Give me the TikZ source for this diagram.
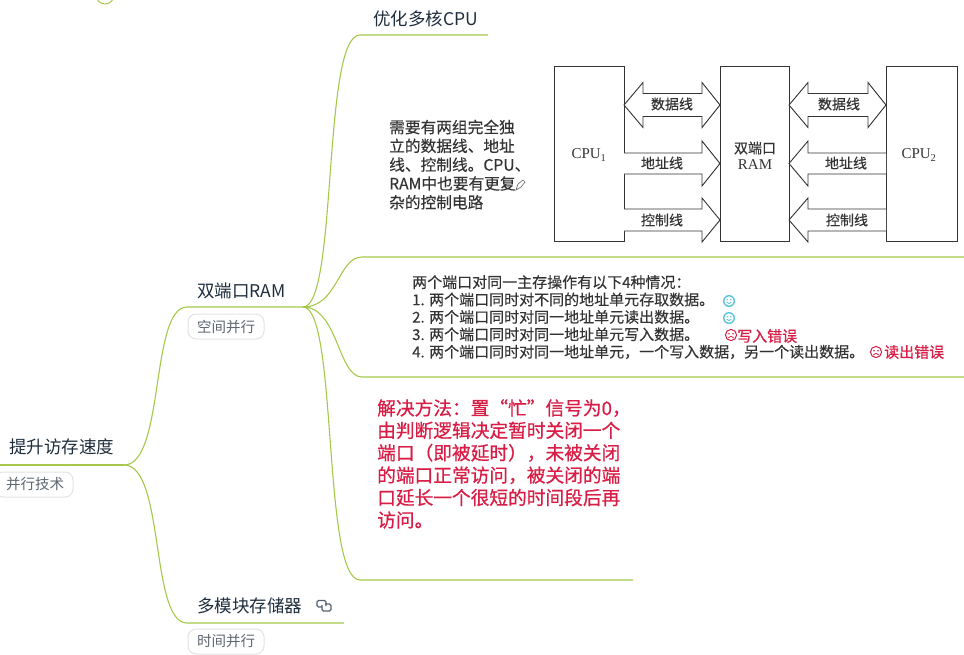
\documentclass[tikz,border=0pt]{standalone}
\usepackage{fontspec}
\setmainfont{Noto Sans CJK SC}
\newfontfamily\latinserif{Liberation Serif}
\newfontfamily\photofont[FakeBold=0.25]{Noto Sans CJK SC}
\newfontfamily\alertfont[FakeBold=0.7]{Noto Sans CJK SC}
\definecolor{branch}{HTML}{A5C84B}
\definecolor{inktext}{HTML}{1F2D3D}
\definecolor{tagline}{HTML}{E2E2E2}
\definecolor{tagtext}{HTML}{5E6670}
\definecolor{photoink}{HTML}{333333}
\definecolor{alertred}{HTML}{D81E46}
\definecolor{smile}{HTML}{5CC4E0}
\tikzset{
  limb/.style={draw=branch,line width=1.1pt},
  rootlimb/.style={draw=branch,line width=2.2pt},
  topic/.style={inner sep=0pt,anchor=west,text=inktext,font=\fontsize{17.5}{20}\selectfont},
  tagbox/.style={draw=tagline,line width=1pt,rounded corners=8pt,minimum height=25pt,text=tagtext,inner sep=0pt,font=\fontsize{14.5}{16}\selectfont},
  hwbox/.style={draw=photoink,line width=.9pt,inner sep=0pt},
  blockarrow/.style={draw=photoink,line width=.9pt,fill=white,line join=miter},
  wirelabel/.style={inner sep=0pt,text=photoink,font=\photofont\fontsize{14}{16}\selectfont},
  serifname/.style={inner sep=0pt,text=photoink,font=\latinserif\fontsize{15}{17}\selectfont},
  photonote/.style={inner sep=0pt,anchor=north west,align=left,text=photoink},
  alerttext/.style={inner sep=0pt,text=alertred,font=\alertfont\fontsize{15}{17}\selectfont},
  smileface/.pic={
    \fill[smile] (0,0) circle (6);
    \fill[white] (0,0) circle (4.6);
    \fill[smile] (-1.7,-1.3) circle (.8) (1.7,-1.3) circle (.8);
    \draw[smile,line width=.8pt] (-2.4,1) .. controls (-1,3) and (1,3) .. (2.4,1);
  },
  sadface/.pic={
    \draw[alertred,line width=1pt] (0,0) circle (5.6);
    \fill[alertred] (-2,-1.3) circle (.9) (2,-1.3) circle (.9);
    \draw[alertred,line width=.8pt] (-2.8,2.9) .. controls (-1,.8) and (1,.8) .. (2.8,2.9);
  }
}
\newcommand{\RightBlock}[6]{\draw[blockarrow] (#1,#4-#5) -- (#2,#4-#5) -- (#2,#4-#6) -- (#3,#4) -- (#2,#4+#6) -- (#2,#4+#5) -- (#1,#4+#5);}
\newcommand{\BothBlock}[7]{\draw[blockarrow] (#1,#5) -- (#2,#5-#7) -- (#2,#5-#6) -- (#3,#5-#6) -- (#3,#5-#7) -- (#4,#5) -- (#3,#5+#7) -- (#3,#5+#6) -- (#2,#5+#6) -- (#2,#5+#7) -- cycle;}
\begin{document}
\begin{tikzpicture}[x=1pt,y=-1pt]
\useasboundingbox (0,0) rectangle (964,654);
\clip (0,0) rectangle (964,654);

% ----- map branches
\coordinate (rootL) at (-2,465);
\coordinate (rootR) at (124,465);
\coordinate (dualL) at (187,307);
\coordinate (dualR) at (303,307);
\coordinate (multiL) at (187,623);
\coordinate (multiR) at (344,623);
\coordinate (optL) at (360,35);
\coordinate (optR) at (488,35);
\coordinate (photoTopL) at (362,257);
\coordinate (photoTopR) at (966,257);
\coordinate (photoMidL) at (362,377);
\coordinate (photoMidR) at (966,377);
\coordinate (fixL) at (360,580);
\coordinate (fixR) at (633,580);

\draw[branch,line width=1pt] (105,-5) circle (9);

\draw[rootlimb] (rootL) -- (rootR);
\draw[limb] (rootR) .. controls (165,465) and (150,307) .. (dualL) -- (dualR);
\draw[limb] (rootR) .. controls (165,465) and (150,623) .. (multiL) -- (multiR);
\draw[limb] (dualR) .. controls (338,307) and (322,35) .. (optL) -- (optR);
\draw[limb] (dualR) .. controls (338,307) and (338,257) .. (photoTopL) -- (photoTopR);
\draw[limb] (dualR) .. controls (338,307) and (338,377) .. (photoMidL) -- (photoMidR);
\draw[limb] (dualR) .. controls (338,307) and (322,580) .. (fixL) -- (fixR);

\node[topic] (optT) at (373,19) {优化多核CPU};
\node[topic] (dualT) at (197,291) {双端口RAM};
\node[topic] (rootT) at (9,447) {提升访存速度};
\node[topic] (multiT) at (197,606) {多模块存储器};
\node[tagbox,minimum width=78pt] (rootTag) at (34,484.5) {\hspace{2pt}并行技术};
\node[tagbox,minimum width=76pt] (dualTag) at (226,326.5) {空间并行};
\node[tagbox,minimum width=76pt] (multiTag) at (226,641.5) {时间并行};

% link icon
\draw[inktext!75,line width=1.1pt,rounded corners=1.5pt] (322,607) -- (317,607) -- (317,600.5) -- (326,600.5) -- (326,606);
\draw[inktext!75,line width=1.1pt,rounded corners=1.5pt] (325,604) -- (331,604) -- (331,611) -- (322,611) -- (322,605);

% ----- pasted note
\node[photonote,font=\photofont\fontsize{15.7}{18.8}\selectfont] (note) at (389,119.5)
  {需要有两组完全独\\立的数据线、地址\\线、控制线。CPU、\\RAM中也要有更复\\杂的控制电路};
\draw[photoink!70,line width=.7pt] (516,190) -- (518,184) -- (523,180) -- (525,182) -- (521,187) -- cycle;

% ----- hardware figure
\node[hwbox,minimum width=70pt,minimum height=175pt] (cpua) at (589,153.5) {};
\node[hwbox,minimum width=69pt,minimum height=175pt] (ram) at (754.5,153.5) {};
\node[hwbox,minimum width=71pt,minimum height=175pt] (cpub) at (921.5,153.5) {};
\BothBlock{624}{643}{702}{720}{105}{11.5}{22.5}
\BothBlock{789}{808}{868}{886}{105}{11.5}{22.5}
\RightBlock{624}{702}{720}{163.5}{10.5}{22.5}
\RightBlock{624}{702}{720}{220}{11}{22}
\RightBlock{886}{808}{789}{163.5}{10.5}{22.5}
\RightBlock{886}{808}{789}{220}{11}{22}
\node[serifname] (cpuaT) at (589,155) {CPU\textsubscript{1}};
\node[serifname] (cpubT) at (919,155) {CPU\textsubscript{2}};
\node[wirelabel] (ramTa) at (755,148) {双端口};
\node[serifname] (ramTb) at (755,165) {RAM};
\node[wirelabel] at (672,104) {数据线};
\node[wirelabel] at (839,104) {数据线};
\node[wirelabel] at (662,163) {地址线};
\node[wirelabel] at (846,163) {地址线};
\node[wirelabel] at (662,220) {控制线};
\node[wirelabel] at (847,220) {控制线};

% ----- four cases
\node[photonote,font=\photofont\fontsize{15}{17.4}\selectfont] (cases) at (412,275)
  {两个端口对同一主存操作有以下4种情况：\\
   1. 两个端口同时对不同的地址单元存取数据。\\
   2. 两个端口同时对同一地址单元读出数据。\\
   3. 两个端口同时对同一地址单元写入数据。\\
   4. 两个端口同时对同一地址单元，一个写入数据，另一个读出数据。};
\pic at (729,301) {smileface};
\pic at (729,318) {smileface};
\pic at (731,335) {sadface};
\node[alerttext,anchor=west] at (737,336) {写入错误};
\pic at (876,352) {sadface};
\node[alerttext,anchor=west] at (884,352) {读出错误};

% ----- resolution
\node[inner sep=0pt,anchor=north west,align=left,text=alertred,font=\alertfont\fontsize{18.7}{22.4}\selectfont] (fix) at (377,399)
  {解决方法：置“忙”信号为0，\\由判断逻辑决定暂时关闭一个\\端口（即被延时），未被关闭\\的端口正常访问，被关闭的端\\口延长一个很短的时间段后再\\访问。};
\end{tikzpicture}
\end{document}
